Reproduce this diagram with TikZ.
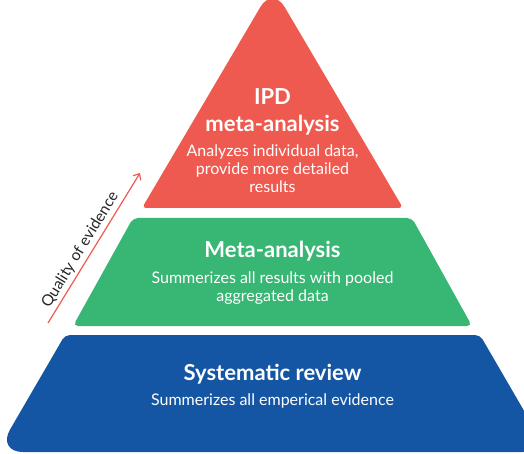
\documentclass[tikz,border=0pt]{standalone}
\usepackage{fontspec}
\setmainfont{Lato}
\usetikzlibrary{arrows.meta}
\definecolor{ipdred}{RGB}{239,90,80}
\definecolor{metagreen}{RGB}{56,182,115}
\definecolor{reviewblue}{RGB}{20,86,164}
\begin{document}
\begin{tikzpicture}[x=1pt, y=-1pt]
        \tikzset{
            title/.style={
                    text=white,
                    font=\fontsize{22}{27}\selectfont\bfseries,
                    align=center,
                    inner sep=0pt,
                    anchor=base,
                },
            note/.style={
                    text=white,
                    font=\fontsize{16}{18}\selectfont,
                    align=center,
                    inner sep=0pt,
                    anchor=base,
                },
            quality/.style={-{Straight Barb[length=5pt, width=9pt]}, draw=ipdred, line width=1.2pt},
        }
        \useasboundingbox (0,0) rectangle (524,454);
        \clip (0,0) rectangle (524,454);
        % \draw[step=50] (0,0) grid (524,454);
        % base anchor of a node sits on its last line
        \fill[reviewblue, rounded corners=5pt] (272.5,335) -- (480,335) [rounded corners=26pt] -- (548,452) -- (-3,452) [rounded corners=5pt] -- (65,335) -- cycle;
        \fill[metagreen, rounded corners=5pt] (272.5,218) -- (412,218) -- (472,326) -- (73,326) -- (133,218) -- cycle;
        \fill[ipdred, rounded corners=4pt] (272.5,208) -- (403,208) [rounded corners=24pt] -- (272.5,-13.6) [rounded corners=4pt] -- (142,208) -- cycle;
        \node[title] (ipd) at (272.5, 132) {IPD\\meta-analysis};
        \node[note] (ipdnote) at (272.5, 193) {Analyzes individual data,\\provide more detailed\\results};
        \node[title] (meta) at (272.5, 257) {Meta-analysis};
        \node[note] (metanote) at (272.5, 301) {Summerizes all results with pooled\\aggregated data};
        \node[title] (review) at (272.5, 380) {Systematic review};
        \node[note] (reviewnote) at (272.5, 405) {Summerizes all emperical evidence};
        \coordinate (low) at (48, 323);
        \coordinate (high) at (140, 173);
        \draw[quality] (low) -- node[sloped, above=3pt, pos=0.45, inner sep=0pt, font=\fontsize{15.5}{17}\selectfont, text=black!85] (qual) {Quality of evidence} (high);
    \end{tikzpicture}
\end{document}
